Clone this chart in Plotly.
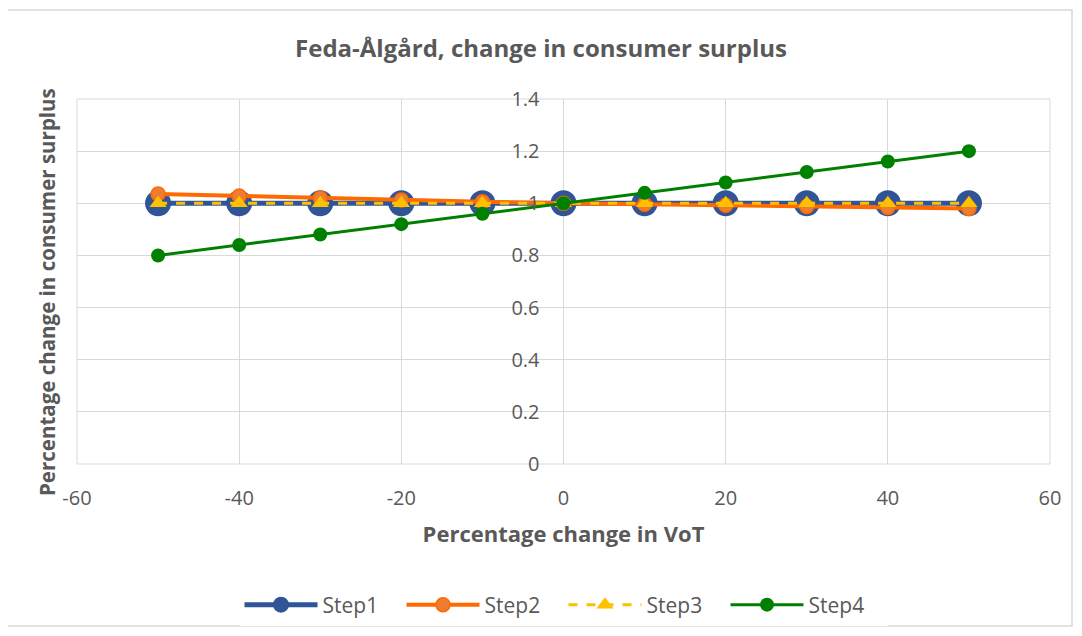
import plotly.graph_objects as go

x_vals = [-50, -40, -30, -20, -10, 0, 10, 20, 30, 40, 50]
step1 = [1, 1, 1, 1, 1, 1, 1, 1, 1, 1, 1]
step2 = [1.036, 1.028, 1.02, 1.013, 1.006, 1.0, 0.996, 0.992, 0.988, 0.984, 0.98]
step3 = [1, 1, 1, 1, 1, 1, 1, 1, 1, 1, 1]
step4 = [0.8, 0.84, 0.88, 0.92, 0.96, 1.0, 1.04, 1.08, 1.12, 1.16, 1.2]
x_ticks = [-60, -40, -20, 0, 20, 40, 60]
x_labels = ["-60", "-40", "-20", "0", "20", "40", "60"]
y_ticks = [0, 0.2, 0.4, 0.6, 0.8, 1, 1.2, 1.4]
y_labels = ["0", "0.2", "0.4", "0.6", "0.8", "1", "1.2", "1.4"]

FONT = "Open Sans, sans-serif"
GREY = "#595959"

# page body has an 8px margin; figure sized to fit inside the window
W, H = 1066, 620
OFF = 8
PL, PR, PT, PB = 77, 1050, 99, 464  # plot area in window pixels
PW, PH = PR - PL, PB - PT

fig = go.Figure()
fig.add_trace(go.Scatter(x=x_vals, y=step1, name="Step1", mode="lines+markers",
                         line=dict(color="#2F5597", width=5),
                         marker=dict(symbol="circle", size=26, color="#2F5597")))
fig.add_trace(go.Scatter(x=x_vals, y=step2, name="Step2", mode="lines+markers",
                         line=dict(color="#FF6A00", width=4),
                         marker=dict(symbol="circle", size=14, color="#ED7D31",
                                     line=dict(color="#FF6A00", width=1.5))))
fig.add_trace(go.Scatter(x=x_vals, y=step3, name="Step3", mode="lines+markers",
                         line=dict(color="#FFC000", width=3, dash="dash"),
                         marker=dict(symbol="triangle-up", size=15, color="#FFC000")))
fig.add_trace(go.Scatter(x=x_vals, y=step4, name="Step4", mode="lines+markers",
                         line=dict(color="#008000", width=3),
                         marker=dict(symbol="circle", size=14, color="#008000")))

fig.update_layout(
    width=W, height=H,
    paper_bgcolor="white", plot_bgcolor="white",
    margin=dict(l=PL - OFF, r=W + OFF - PR, t=PT - OFF, b=H + OFF - PB, autoexpand=False),
    font=dict(family=FONT, color=GREY, size=20),
    title=dict(text="<b>Feda-Ålgård, change in consumer surplus</b>",
               x=0.5, xanchor="center", y=1 - (49 - OFF) / H, yanchor="middle",
               font=dict(size=24, color=GREY, family=FONT)),
    xaxis=dict(range=[-60, 60], tickvals=x_ticks, ticktext=x_labels, showgrid=True,
               gridcolor="#d9d9d9", gridwidth=1, zeroline=False, showline=False,
               ticks="", ticklabelstandoff=20, automargin=False,
               tickfont=dict(size=20, color=GREY), fixedrange=True,
               title=dict(text="<b>Percentage change in VoT</b>", standoff=16,
                          font=dict(size=22, color=GREY))),
    yaxis=dict(range=[0, 1.4], tickvals=y_ticks, ticktext=y_labels, showgrid=True,
               gridcolor="#d9d9d9", gridwidth=1, zeroline=False, showline=False,
               ticks="", anchor="free", position=0.5, ticklabelstandoff=24,
               automargin=False, tickfont=dict(size=20, color=GREY)),
    legend=dict(orientation="h", x=0.5, xanchor="center",
                y=(PB - 605) / PH, yanchor="middle",
                font=dict(size=21, color=GREY), itemwidth=73,
                entrywidth=74, entrywidthmode="pixels"),
    showlegend=True,
)

fig.add_annotation(text="<b>Percentage change in consumer surplus</b>", textangle=-90,
                   xref="paper", yref="paper", x=(47 - PL) / PW, y=(PB - 292) / PH,
                   xanchor="center", yanchor="middle", showarrow=False,
                   font=dict(size=20.5, color=GREY, family=FONT))

# x=0 vertical line and plot area border
fig.add_shape(type="line", xref="x", yref="paper", x0=0, x1=0, y0=0, y1=1,
              line=dict(color="#c8c8c8", width=1), layer="below")
fig.add_shape(type="rect", xref="paper", yref="paper", x0=0, x1=1, y0=0, y1=1,
              line=dict(color="#d9d9d9", width=1), layer="below")
# outer chart border
fig.add_shape(type="rect", xref="paper", yref="paper",
              x0=(7 - PL) / PW, x1=(1072 - PL) / PW,
              y0=(PB - 626) / PH, y1=(PB - 10) / PH,
              line=dict(color="#d9d9d9", width=1.5), layer="below")

fig.write_html("out.html")
